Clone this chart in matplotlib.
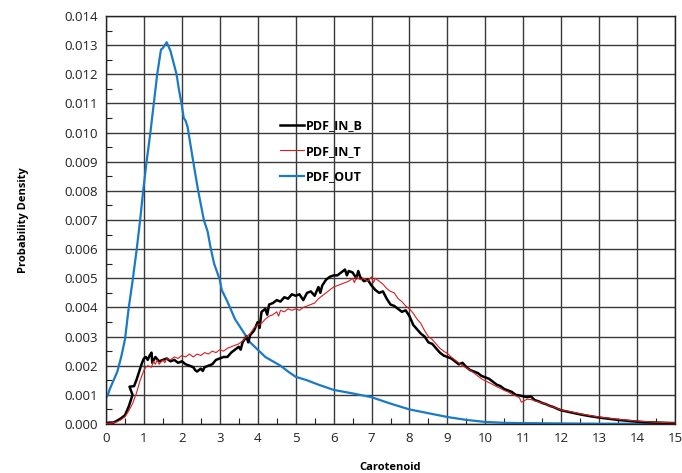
import matplotlib
matplotlib.use("Agg")
import matplotlib.pyplot as plt
from matplotlib.ticker import MultipleLocator, FormatStrFormatter

# PDF_OUT (blue)
out_x = [0, 0.05, 0.1, 0.2, 0.3, 0.34, 0.4, 0.5, 0.6, 0.7, 0.81, 0.9, 0.98, 1.07, 1.17,
         1.26, 1.35, 1.42, 1.45, 1.5, 1.6, 1.7, 1.8, 1.86, 1.92, 1.99, 2.05, 2.1, 2.15,
         2.2, 2.3, 2.43, 2.58, 2.68, 2.75, 2.85, 3.0, 3.05, 3.2, 3.4, 3.6, 3.7, 3.8, 4.0,
         4.2, 4.4, 4.6, 4.8, 5.0, 5.3, 5.6, 6.0, 6.5, 7.0, 7.5, 8.0, 8.5, 9.0, 9.5, 10.0,
         10.5, 11.0, 12.0, 13.0, 14.0, 15.0]
out_y = [0.9, 1.0, 1.2, 1.5, 1.8, 2.0, 2.3, 2.9, 4.0, 4.9, 6.0, 7.0, 8.0, 9.0, 10.0,
         11.0, 12.0, 12.6, 12.85, 12.9, 13.1, 12.8, 12.3, 12.0, 11.5, 11.0, 10.5, 10.4, 10.2,
         9.8, 9.0, 8.0, 7.0, 6.6, 6.1, 5.5, 4.95, 4.6, 4.2, 3.6, 3.2, 3.0, 2.8, 2.55,
         2.3, 2.15, 2.0, 1.8, 1.62, 1.5, 1.35, 1.17, 1.05, 0.92, 0.7, 0.5, 0.37, 0.24, 0.14, 0.07,
         0.04, 0.03, 0.02, 0.01, 0.01, 0.01]

# PDF_IN_B (black)
inb_x = [0.0, 0.1, 0.2, 0.3, 0.4, 0.5, 0.6, 0.7, 0.62, 0.74, 0.8, 0.9, 0.95, 1.0, 1.05, 1.1,
         1.15, 1.2, 1.22, 1.3, 1.4, 1.5, 1.6, 1.7, 1.8, 1.9, 2.0, 2.1, 2.2, 2.3, 2.35, 2.4,
         2.5, 2.55, 2.6, 2.7, 2.8, 2.9, 3.0, 3.1, 3.2, 3.3, 3.4, 3.5, 3.55, 3.6, 3.7, 3.75,
         3.8, 3.9, 4.0, 4.05, 4.1, 4.2, 4.25, 4.3, 4.4, 4.5, 4.6, 4.7, 4.8, 4.9, 5.0, 5.1,
         5.2, 5.3, 5.4, 5.5, 5.6, 5.65, 5.7, 5.8, 5.9, 6.0, 6.1, 6.2, 6.3, 6.35, 6.4, 6.5,
         6.6, 6.65, 6.7, 6.8, 6.9, 7.0, 7.1, 7.2, 7.3, 7.4, 7.5, 7.6, 7.7, 7.8, 7.9, 8.0,
         8.1, 8.2, 8.3, 8.4, 8.5, 8.6, 8.7, 8.8, 8.9, 9.0, 9.1, 9.2, 9.3, 9.4, 9.5, 9.6,
         9.7, 9.8, 9.9, 10.0, 10.1, 10.2, 10.3, 10.4, 10.5, 10.6, 10.7, 10.8, 10.9, 11.0,
         11.1, 11.2, 11.3, 11.4, 11.5, 11.6, 11.7, 11.8, 11.9, 12.0, 12.25, 12.5, 12.75,
         13.0, 13.25, 13.5, 13.75, 14.0, 14.25, 14.5, 14.75, 15.0]
inb_y = [0.03, 0.05, 0.05, 0.12, 0.2, 0.3, 0.6, 1.0, 1.28, 1.3, 1.5, 1.9, 2.1, 2.25, 2.3, 2.2,
         2.35, 2.45, 2.1, 2.3, 2.15, 2.2, 2.25, 2.15, 2.2, 2.1, 2.15, 2.05, 2.0, 1.95, 1.85, 1.8,
         1.9, 1.82, 1.95, 2.0, 2.05, 2.2, 2.25, 2.3, 2.3, 2.45, 2.55, 2.65, 2.55, 2.8, 3.0, 2.8,
         3.05, 3.2, 3.5, 3.3, 3.85, 3.95, 3.75, 4.1, 4.15, 4.25, 4.2, 4.35, 4.3, 4.45, 4.4, 4.45,
         4.25, 4.5, 4.55, 4.4, 4.7, 4.5, 4.75, 4.95, 5.05, 5.1, 5.1, 5.2, 5.3, 5.1, 5.25, 5.2,
         5.0, 5.25, 5.05, 4.9, 4.95, 4.75, 4.6, 4.5, 4.55, 4.3, 4.1, 4.05, 3.95, 3.85, 3.9, 3.7,
         3.4, 3.25, 3.1, 3.0, 2.8, 2.75, 2.6, 2.45, 2.35, 2.3, 2.25, 2.15, 2.05, 2.1, 1.95, 1.85,
         1.8, 1.75, 1.65, 1.6, 1.55, 1.45, 1.35, 1.3, 1.2, 1.15, 1.1, 1.0, 0.98, 0.95,
         0.92, 0.95, 0.82, 0.78, 0.72, 0.68, 0.62, 0.58, 0.52, 0.47, 0.4, 0.33, 0.27,
         0.22, 0.18, 0.14, 0.11, 0.08, 0.06, 0.05, 0.04, 0.03]

# PDF_IN_T (red)
int_x = [0.0, 0.1, 0.2, 0.3, 0.4, 0.5, 0.6, 0.7, 0.8, 0.9, 1.0, 1.05, 1.1, 1.2, 1.25, 1.3,
         1.35, 1.4, 1.5, 1.55, 1.6, 1.7, 1.8, 1.9, 2.0, 2.1, 2.2, 2.3, 2.4, 2.5, 2.6, 2.7,
         2.8, 2.9, 3.0, 3.1, 3.2, 3.3, 3.4, 3.5, 3.6, 3.7, 3.8, 3.9, 4.0, 4.1, 4.2, 4.3,
         4.4, 4.5, 4.55, 4.6, 4.7, 4.8, 4.9, 5.0, 5.1, 5.2, 5.3, 5.4, 5.5, 5.6, 5.7, 5.8,
         5.9, 6.0, 6.1, 6.2, 6.3, 6.4, 6.5, 6.55, 6.6, 6.7, 6.8, 6.9, 7.0, 7.05, 7.1, 7.2,
         7.3, 7.4, 7.5, 7.6, 7.7, 7.8, 7.9, 8.0, 8.1, 8.2, 8.3, 8.4, 8.5, 8.6, 8.7, 8.8,
         8.9, 9.0, 9.1, 9.2, 9.3, 9.4, 9.5, 9.6, 9.7, 9.8, 9.9, 10.0, 10.1, 10.2, 10.3,
         10.4, 10.5, 10.6, 10.7, 10.8, 10.9, 10.95, 11.0, 11.1, 11.2, 11.3, 11.4, 11.5,
         11.6, 11.7, 11.8, 11.9, 12.0, 12.25, 12.5, 12.75, 13.0, 13.25, 13.5, 13.75, 14.0,
         14.25, 14.5, 14.75, 15.0]
int_y = [0.02, 0.03, 0.05, 0.08, 0.15, 0.25, 0.45, 0.7, 1.05, 1.5, 1.85, 1.95, 2.0, 1.95, 2.15, 2.05,
         2.2, 2.05, 2.2, 2.1, 2.25, 2.2, 2.3, 2.25, 2.35, 2.3, 2.4, 2.3, 2.4, 2.35, 2.45, 2.4,
         2.5, 2.45, 2.55, 2.5, 2.6, 2.65, 2.7, 2.75, 2.85, 3.0, 3.1, 3.3, 3.4, 3.45, 3.6, 3.7,
         3.75, 3.85, 3.7, 3.9, 3.85, 3.95, 3.9, 3.95, 3.9, 4.0, 4.05, 4.1, 4.15, 4.3, 4.4, 4.5,
         4.6, 4.7, 4.75, 4.8, 4.85, 4.9, 5.0, 4.85, 5.05, 4.95, 5.0, 4.9, 5.05, 4.85, 5.0, 4.9,
         4.8, 4.65, 4.55, 4.5, 4.3, 4.2, 4.05, 3.95, 3.8, 3.6, 3.45, 3.2, 3.0, 2.9, 2.75, 2.6,
         2.5, 2.42, 2.3, 2.2, 2.1, 2.0, 1.92, 1.85, 1.75, 1.65, 1.55, 1.48, 1.42, 1.35, 1.28,
         1.22, 1.15, 1.1, 1.02, 0.97, 0.9, 0.75, 0.78, 0.85, 0.84, 0.8, 0.76, 0.72,
         0.68, 0.62, 0.58, 0.53, 0.48, 0.42, 0.35, 0.29, 0.24, 0.2, 0.16, 0.13, 0.1,
         0.08, 0.06, 0.05, 0.04]

scale = 1e-3
plt.rcParams['font.family'] = ['Open Sans', 'DejaVu Sans']

fig = plt.figure(figsize=(6.82, 4.73), dpi=100)
ax = fig.add_axes([106/682, 49/473, 569/682, 408/473])

ax.plot(inb_x, [v*scale for v in inb_y], color='black', lw=1.8, label='PDF_IN_B', zorder=3)
ax.plot(int_x, [v*scale for v in int_y], color='#d42020', lw=0.8, label='PDF_IN_T', zorder=4)
ax.plot(out_x, [v*scale for v in out_y], color='#1a7ac8', lw=1.6, label='PDF_OUT', zorder=2)

ax.set_xlim(0, 15)
ax.set_ylim(0, 0.014)
ax.xaxis.set_major_locator(MultipleLocator(1))
ax.xaxis.set_minor_locator(MultipleLocator(0.5))
ax.yaxis.set_major_locator(MultipleLocator(0.001))
ax.yaxis.set_minor_locator(MultipleLocator(0.0005))
ax.yaxis.set_major_formatter(FormatStrFormatter('%.3f'))
ax.grid(True, which='major', color='#3a3a3a', lw=1.0)
ax.set_axisbelow(True)
ax.tick_params(which='both', direction='in', labelsize=9.5, colors='#222222')
ax.tick_params(which='major', length=0, pad=6)
ax.tick_params(which='minor', length=4, width=0.8)
for s in ax.spines.values():
    s.set_color('#222222')
    s.set_linewidth(1.0)

ax.set_xlabel('Carotenoid', fontsize=8, fontweight='bold', labelpad=12)
ax.set_ylabel('Probability Density', fontsize=8, fontweight='bold', labelpad=25)

ax.legend(loc='upper left', bbox_to_anchor=(163/569, 1-92/408), frameon=False,
          handlelength=1.9, handletextpad=0.15, labelspacing=1.0,
          prop={'size': 9, 'weight': 'bold'})

fig.savefig('out.png', dpi=100)
